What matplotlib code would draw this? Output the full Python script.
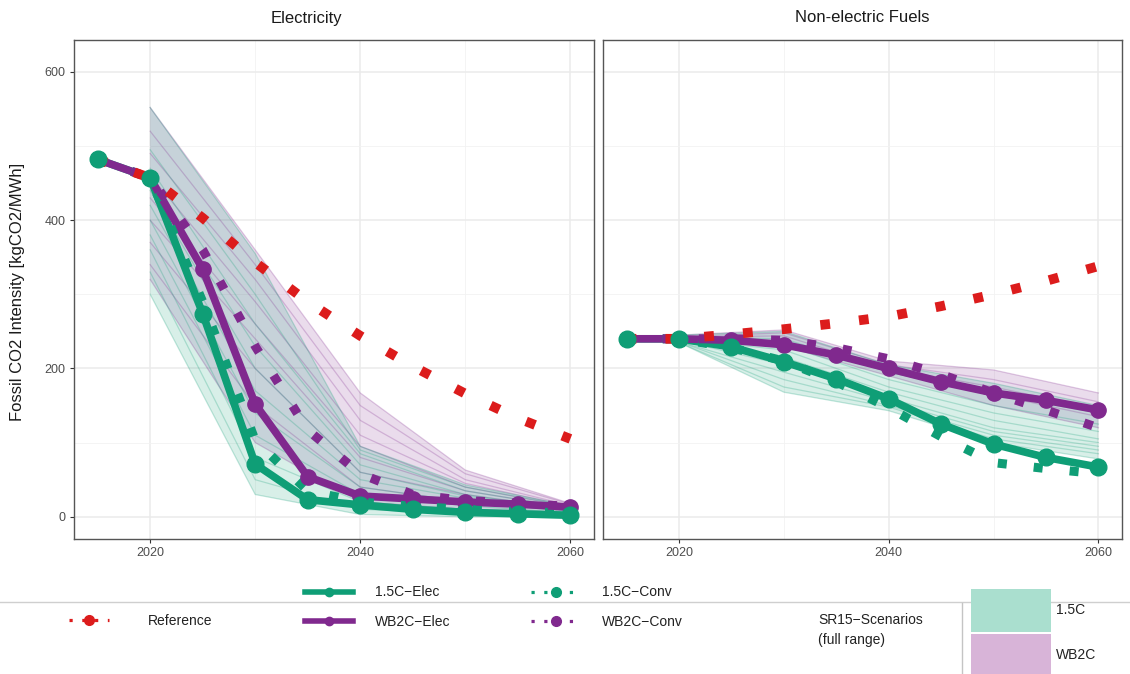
import matplotlib
matplotlib.use("Agg")
import matplotlib.pyplot as plt
import numpy as np
from matplotlib.lines import Line2D
from matplotlib.patches import Patch

plt.rcParams['font.family'] = ['Liberation Sans', 'DejaVu Sans']

GREEN = '#0f9e76'
PURPLE = '#80298e'
RED = '#dc1c1c'
DOTS = (0, (1, 3))

years = [2015, 2020, 2025, 2030, 2035, 2040, 2045, 2050, 2055, 2060]
scen_years = [2020, 2030, 2040, 2050, 2060]

# Electricity [kgCO2/MWh]
elec_ref = [482, 457, 403, 343, 290, 244, 203, 166, 133, 105]
elec_15_elec = [482, 457, 274, 71, 23, 16, 10, 6, 4, 2]
elec_wb2_elec = [482, 457, 334, 152, 54, 28, 24, 20, 17, 13]
elec_15_conv = [482, 457, 290, 103, 35, 20, 14, 10, 7, 5]
elec_wb2_conv = [482, 457, 360, 230, 117, 58, 30, 22, 18, 14]

# SR15 scenarios, electricity (2020, 2030, 2040, 2050, 2060)
elec_sr15_15 = [
    [552, 355, 95, 43, 15],
    [495, 300, 90, 40, 14],
    [470, 260, 85, 35, 12],
    [450, 230, 70, 30, 10],
    [440, 200, 60, 28, 10],
    [420, 170, 50, 25, 8],
    [400, 140, 40, 20, 7],
    [380, 110, 30, 15, 5],
    [360, 80, 20, 10, 4],
    [330, 50, 10, 5, 2],
    [300, 30, 3, 0, 0],
]
elec_sr15_wb2 = [
    [552, 360, 167, 63, 18],
    [520, 340, 150, 58, 17],
    [490, 320, 130, 50, 15],
    [460, 290, 110, 45, 14],
    [430, 260, 95, 40, 13],
    [400, 240, 80, 35, 12],
    [370, 200, 60, 30, 10],
    [340, 150, 40, 20, 8],
    [320, 100, 20, 10, 5],
]

# Non-electric fuels [kgCO2/MWh]
fuel_ref = [240, 240, 246, 253, 261, 270, 284, 300, 318, 338]
fuel_15_elec = [240, 240, 229, 209, 186, 159, 125, 98, 80, 67]
fuel_wb2_elec = [240, 240, 238, 232, 218, 200, 182, 167, 157, 144]
fuel_15_conv = [240, 240, 228, 210, 182, 147, 108, 73, 65, 58]
fuel_wb2_conv = [240, 240, 240, 238, 228, 213, 192, 167, 144, 120]

fuel_sr15_15 = [
    [245, 250, 205, 180, 150],
    [242, 240, 195, 165, 140],
    [240, 232, 185, 150, 125],
    [240, 225, 175, 140, 115],
    [238, 215, 168, 130, 105],
    [238, 205, 160, 120, 100],
    [236, 195, 155, 115, 95],
    [236, 185, 150, 110, 90],
    [235, 175, 148, 105, 85],
    [235, 168, 143, 100, 78],
]
fuel_sr15_wb2 = [
    [245, 252, 210, 198, 167],
    [243, 248, 205, 185, 155],
    [242, 244, 200, 175, 145],
    [240, 238, 195, 165, 135],
    [240, 230, 190, 150, 120],
]

panels = [
    ("Electricity", elec_ref, elec_15_elec, elec_wb2_elec, elec_15_conv,
     elec_wb2_conv, elec_sr15_15, elec_sr15_wb2),
    ("Non-electric Fuels", fuel_ref, fuel_15_elec, fuel_wb2_elec, fuel_15_conv,
     fuel_wb2_conv, fuel_sr15_15, fuel_sr15_wb2),
]


def draw_panel(ax, ref, e15, ew2, c15, cw2, s15, sw2):
    for rows, col in ((sw2, PURPLE), (s15, GREEN)):
        arr = np.array(rows)
        ax.fill_between(scen_years, arr.min(axis=0), arr.max(axis=0),
                        facecolor=col, alpha=0.16, edgecolor='none', zorder=1)
        for r in rows:
            ax.plot(scen_years, r, color=col, alpha=0.25, lw=0.9, zorder=2)

    ax.plot(years, e15, color=GREEN, lw=5.5, zorder=3, solid_joinstyle='round')
    ax.plot(years, ew2, color=PURPLE, lw=5.5, zorder=3.1, solid_joinstyle='round')
    ax.plot(years, c15, color=GREEN, lw=6.5, ls=DOTS, zorder=4)
    ax.plot(years, cw2, color=PURPLE, lw=6.5, ls=DOTS, zorder=4.1)
    ax.plot(years, ref, color=RED, lw=7, ls=DOTS, zorder=4.2)
    ax.plot(years, ew2, 'o', color=PURPLE, ms=11, zorder=5)
    ax.plot(years, e15, 'o', color=GREEN, ms=12, zorder=5.1)

    ax.set_xlim(2012.75, 2062.25)
    ax.set_ylim(-30, 643)
    ax.set_xticks([2020, 2040, 2060])
    ax.set_xticks([2030, 2050], minor=True)
    ax.set_yticks([0, 200, 400, 600])
    ax.set_yticks([100, 300, 500], minor=True)
    ax.grid(which='major', color='#ebebeb', lw=1.1)
    ax.grid(which='minor', color='#f2f2f2', lw=0.6)
    ax.set_axisbelow(True)
    for sp in ax.spines.values():
        sp.set_color('#555555')
        sp.set_linewidth(1.0)
    ax.tick_params(which='major', length=3, color='#333333', labelsize=9,
                   labelcolor='#4d4d4d', pad=3)
    ax.tick_params(which='minor', length=0)


fig = plt.figure(figsize=(11.3, 6.74), dpi=100)
W, H = 1130, 674
ax1 = fig.add_axes([74 / W, 1 - 539 / H, 520 / W, 499 / H])
ax2 = fig.add_axes([603 / W, 1 - 539 / H, 519 / W, 499 / H])

for ax, p in zip((ax1, ax2), panels):
    draw_panel(ax, *p[1:])
ax2.tick_params(axis='y', left=False, labelleft=False)

fig.text(306 / W, 1 - 18 / H, panels[0][0], ha='center', va='center',
         fontsize=12, color='#1a1a1a')
fig.text(862 / W, 1 - 18 / H, panels[1][0], ha='center', va='center',
         fontsize=12, color='#1a1a1a')
fig.text(18 / W, 1 - 292 / H, 'Fossil CO2 Intensity [kgCO2/MWh]',
         rotation=90, ha='center', va='center', fontsize=12, color='#1a1a1a')

# legend area
fig.add_artist(Line2D([0, 1], [1 - 602 / H] * 2, transform=fig.transFigure,
                      color='#cfcfcf', lw=1, zorder=0))
fig.add_artist(Line2D([962 / W] * 2, [0, 1 - 603 / H], transform=fig.transFigure,
                      color='#c4c4c4', lw=1, zorder=0))

h_ref = Line2D([], [], color=RED, lw=2.3, ls=DOTS, marker='o', ms=7)
fig.legend([h_ref], ['Reference'], loc='center left',
           bbox_to_anchor=(56 / W, 1 - 621 / H), frameon=False, fontsize=10,
           handlelength=2.9, handletextpad=2.8, labelcolor='#222222')

hands = [
    Line2D([], [], color=GREEN, lw=4, marker='o', ms=6),
    Line2D([], [], color=PURPLE, lw=4, marker='o', ms=6),
    Line2D([], [], color=GREEN, lw=2.3, ls=DOTS, marker='o', ms=7),
    Line2D([], [], color=PURPLE, lw=2.3, ls=DOTS, marker='o', ms=7),
]
fig.legend(hands, ['1.5C\u2212Elec', 'WB2C\u2212Elec', '1.5C\u2212Conv', 'WB2C\u2212Conv'],
           ncol=2, loc='center left', bbox_to_anchor=(292 / W, 1 - 607 / H),
           frameon=False, fontsize=10, handlelength=3.5, handletextpad=1.6,
           columnspacing=5.8, labelspacing=1.1, labelcolor='#222222')

fig.text(818 / W, 1 - 630 / H, 'SR15\u2212Scenarios\n(full range)', ha='left',
         va='center', fontsize=10, color='#222222', linespacing=1.5)
fig.legend([Patch(facecolor='#aadfcf', edgecolor='none'),
            Patch(facecolor='#d8b4d8', edgecolor='none')],
           ['1.5C', 'WB2C'], loc='center left',
           bbox_to_anchor=(958 / W, 1 - 633 / H), frameon=False, fontsize=10,
           handlelength=5.8, handleheight=4.4, labelspacing=0.15,
           handletextpad=0.35, labelcolor='#222222')

fig.savefig('out.png', dpi=100)
